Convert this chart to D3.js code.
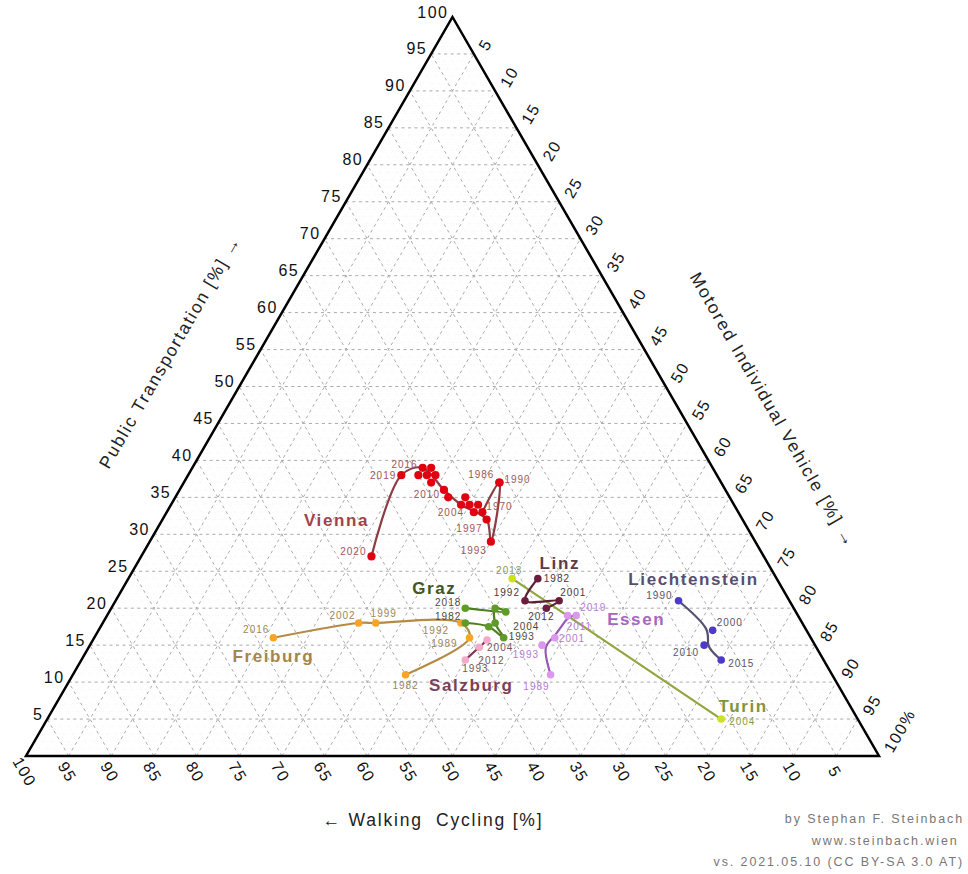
<!DOCTYPE html>
<html>
<head>
<meta charset="utf-8">
<script src="https://cdn.jsdelivr.net/npm/d3@7"></script>
<style>
  body { margin: 0; background: #fff; }
  svg { font-family: "Liberation Sans", Arial, sans-serif; }
</style>
</head>
<body>
<div id="chart"></div>
<script>
// axis ticks (same on all three sides)
const tickValues = [5, 10, 15, 20, 25, 30, 35, 40, 45, 50, 55, 60, 65, 70, 75, 80, 85, 90, 95, 100];

// modal split, shares in % : public transport, motored individual vehicle, walking + cycling
const viennaYears = [1970, 1986, 1990, 1993, 1997, 2001, 2002, 2003, 2004, 2006, 2009, 2010, 2011, 2013, 2014, 2016, 2017, 2018, 2019, 2020];
const viennaPT    = [33, 37, 37, 29, 32, 33, 34, 34, 34, 35, 35, 36, 37, 39, 38, 39, 38, 38, 38, 27];
const viennaMIV   = [37, 37, 37, 40, 38, 36, 36, 35, 34, 34, 32, 31, 29, 28, 28, 27, 27, 29, 25, 27];
const viennaWC    = [30, 26, 26, 31, 30, 31, 30, 31, 32, 31, 33, 33, 34, 33, 34, 34, 35, 33, 37, 46];
const viennaLineYears = [1970, 1990, 1993, 1997, 2004, 2010, 2016, 2019, 2020];

const grazYears = [1982, 1989, 1993, 2004, 2008, 2013, 2018];
const grazPT    = [18, 17.5, 16, 18, 20, 19.5, 20];
const grazMIV   = [42.5, 45.5, 48, 46, 45, 46.5, 41.5];
const grazWC    = [39.5, 37, 36, 36, 35, 34, 38.5];

const linzYears = [1982, 1992, 2001, 2012];
const linzPT    = [24, 21, 21, 20];
const linzMIV   = [48, 48, 52, 51];
const linzWC    = [28, 31, 27, 29];

const essenYears = [1989, 1993, 2001, 2011, 2019];
const essenPT    = [11, 15, 16, 19, 19];
const essenMIV   = [56, 53, 54, 54, 55];
const essenWC    = [33, 32, 30, 27, 26];

const liechtensteinYears = [1990, 2000, 2010, 2015];
const liechtensteinPT    = [21, 17, 15, 13];
const liechtensteinMIV   = [66, 72, 72, 75];
const liechtensteinWC    = [13, 11, 13, 12];

const freiburgYears = [1982, 1989, 1992, 1999, 2002, 2016];
const freiburgPT    = [11, 16, 18, 18, 18, 16];
const freiburgMIV   = [39, 44, 42, 32, 30, 21];
const freiburgWC    = [50, 40, 40, 50, 52, 63];

const salzburgYears = [1993, 2004, 2012];
const salzburgPT    = [13, 15.7, 14.7];
const salzburgMIV   = [45, 46.2, 45.8];
const salzburgWC    = [42, 38.1, 39.5];

const turinYears = [2004, 2013];
const turinPT    = [5, 24];
const turinMIV   = [79, 45];
const turinWC    = [16, 31];

// styling
const cityStyle = {
  Vienna:        {line: '#8c3d44', dot: '#e10010', name: '#9e4447', year: '#a05659', nameAt: [2020, -35, -36]},
  Graz:          {line: '#4f7e1f', dot: '#5f9b29', name: '#43541f', year: '#4b4b3a', nameAt: [2018, -31, -20]},
  Linz:          {line: '#5c2038', dot: '#6b1e3c', name: '#5c3a49', year: '#4d3a43', nameAt: [1982, 22, -15]},
  Essen:         {line: '#9858b6', dot: '#db98ec', name: '#a566c1', year: '#b57bd0', nameAt: [2019, 60, 4]},
  Liechtenstein: {line: '#555074', dot: '#4b3bc8', name: '#56506f', year: '#5a5568', nameAt: [1990, 15, -21]},
  Freiburg:      {line: '#b38b46', dot: '#f8a526', name: '#a5854a', year: '#9d8658', nameAt: [2016, 0, 19]},
  Salzburg:      {line: '#8b2e55', dot: '#f4a9ca', name: '#7c3f58', year: '#6f5a60', nameAt: [1993, 6, 26]},
  Turin:         {line: '#90a63e', dot: '#cde11e', name: '#80963a', year: '#8a9a4c', nameAt: [2004, 22, -13]}
};

// year label placement: [anchor, dx, dy]
const yearLabelAt = {
  Vienna: {1970: ['start', 4, -6], 1986: ['end', -5, -8], 1990: ['start', 5, -3], 1993: ['end', -4, 9],
           1997: ['end', -4, 9], 2004: ['end', 3, 8], 2010: ['end', -4, 5], 2016: ['end', -5, -3],
           2019: ['end', -5, 0], 2020: ['end', -5, -5]},
  Graz: {1982: ['end', -4, -6], 1993: ['start', 5, -1], 2004: ['start', 18, 4], 2018: ['end', -4, -6]},
  Linz: {1982: ['start', 6, 0], 1992: ['end', -5, -8], 2001: ['start', 1, -8], 2012: ['middle', -5, 8]},
  Essen: {1989: ['end', -1, 12], 1993: ['end', -3, 9], 2001: ['start', 4, 1], 2011: ['start', -1, 11], 2019: ['start', 4, -8]},
  Liechtenstein: {1990: ['end', -6, -5], 2000: ['start', 4, -8], 2010: ['end', -5, 7], 2015: ['start', 7, 4]},
  Freiburg: {1982: ['middle', 0, 11], 1989: ['end', -12, 6], 1992: ['end', -12, 8], 1999: ['middle', 8, -9],
             2002: ['end', -3, -7], 2016: ['end', -4, -8]},
  Salzburg: {1993: ['start', -3, 9], 2004: ['start', 0, 8], 2012: ['start', -1, 13]},
  Turin: {2004: ['start', 8, 2], 2013: ['middle', -3, -8]}
};

const cities = [
  {name: 'Vienna', years: viennaYears, pt: viennaPT, miv: viennaMIV, wc: viennaWC, path: viennaLineYears, curve: d3.curveCatmullRom, r: 4.1},
  {name: 'Freiburg', years: freiburgYears, pt: freiburgPT, miv: freiburgMIV, wc: freiburgWC, curve: d3.curveCatmullRom},
  {name: 'Salzburg', years: salzburgYears, pt: salzburgPT, miv: salzburgMIV, wc: salzburgWC, curve: d3.curveCatmullRom},
  {name: 'Graz', years: grazYears, pt: grazPT, miv: grazMIV, wc: grazWC, curve: d3.curveCatmullRom},
  {name: 'Turin', years: turinYears, pt: turinPT, miv: turinMIV, wc: turinWC, curve: d3.curveLinear},
  {name: 'Linz', years: linzYears, pt: linzPT, miv: linzMIV, wc: linzWC, curve: d3.curveCatmullRom},
  {name: 'Essen', years: essenYears, pt: essenPT, miv: essenMIV, wc: essenWC, curve: d3.curveBasis},
  {name: 'Liechtenstein', years: liechtensteinYears, pt: liechtensteinPT, miv: liechtensteinMIV, wc: liechtensteinWC, curve: d3.curveBasis}
];

const width = 968;
const height = 874;

// base of the triangle spans x, height spans public transport share
const xScale = d3.scaleLinear().domain([0, 100]).range([26, 879]);
const yScale = d3.scaleLinear().domain([0, 100]).range([756, 17]);

function pos(pt, miv, wc) {
  if (wc === undefined) wc = 100 - pt - miv;
  const s = (pt + miv + wc) / 100;
  return [xScale((miv + pt / 2) / s), yScale(pt / s)];
}

const svg = d3.select('#chart').append('svg')
  .attr('width', width)
  .attr('height', height);

// grid lines for all three components
function gridSegments(values) {
  const segs = [];
  values.forEach(v => {
    segs.push([pos(v, 0), pos(v, 100 - v)]);
    segs.push([pos(0, v), pos(100 - v, v)]);
    segs.push([pos(0, 100 - v), pos(100 - v, 0)]);
  });
  return segs;
}

svg.append('g').selectAll('line')
  .data(gridSegments(d3.range(1, 100).filter(v => v % 5 !== 0)))
  .join('line')
    .attr('x1', d => d[0][0]).attr('y1', d => d[0][1])
    .attr('x2', d => d[1][0]).attr('y2', d => d[1][1])
    .attr('stroke', '#f2f2f2')
    .attr('stroke-width', 0.6)
    .attr('stroke-dasharray', '1,2');

svg.append('g').selectAll('line')
  .data(gridSegments(tickValues.filter(v => v < 100)))
  .join('line')
    .attr('x1', d => d[0][0]).attr('y1', d => d[0][1])
    .attr('x2', d => d[1][0]).attr('y2', d => d[1][1])
    .attr('stroke', '#aaa')
    .attr('stroke-width', 1)
    .attr('stroke-dasharray', '3,3.5');

// triangle
svg.append('path')
  .attr('d', d3.line()([pos(100, 0), pos(0, 100), pos(0, 0)]) + 'Z')
  .attr('fill', 'none')
  .attr('stroke', '#000')
  .attr('stroke-width', 2.5)
  .attr('stroke-linejoin', 'miter');

// tick labels
const tickG = svg.append('g')
  .attr('font-size', 16)
  .attr('letter-spacing', 1.5)
  .attr('fill', '#111');

tickG.selectAll('text.left')
  .data(tickValues)
  .join('text')
    .attr('class', 'left')
    .attr('x', d => pos(d, 0)[0] - 4)
    .attr('y', d => pos(d, 0)[1] - 5)
    .attr('text-anchor', 'end')
    .attr('dominant-baseline', 'central')
    .text(d => d);

tickG.selectAll('text.right')
  .data(tickValues)
  .join('text')
    .attr('class', 'right')
    .attr('transform', d => {
      const p = pos(100 - d, d);
      return `translate(${p[0] + 9},${p[1] - 5}) rotate(-60)`;
    })
    .attr('text-anchor', 'start')
    .attr('dominant-baseline', 'central')
    .text(d => d === 100 ? '100%' : d);

tickG.selectAll('text.bottom')
  .data(tickValues)
  .join('text')
    .attr('class', 'bottom')
    .attr('transform', d => {
      const p = pos(0, 100 - d);
      return `translate(${p[0] - 1.5},${p[1] + 16}) rotate(60)`;
    })
    .attr('text-anchor', 'middle')
    .attr('dominant-baseline', 'central')
    .text(d => d);

// axis titles
const titleG = svg.append('g')
  .attr('font-size', 17.5)
  .attr('letter-spacing', 1.8)
  .attr('fill', '#222')
  .attr('text-anchor', 'middle');

titleG.append('text')
  .attr('transform', 'translate(170,352) rotate(-60)')
  .attr('dominant-baseline', 'central')
  .text('Public Transportation [%] \u2192');

titleG.append('text')
  .attr('transform', 'translate(773,410) rotate(60)')
  .attr('dominant-baseline', 'central')
  .text('Motored Individual Vehicle [%] \u2192');

titleG.append('text')
  .attr('x', 433)
  .attr('y', 820)
  .attr('dominant-baseline', 'central')
  .text('\u2190 Walking\u00a0 Cycling [%]');

// data
const rowsOf = c => c.years.map((y, i) => ({year: y, pt: c.pt[i], miv: c.miv[i], wc: c.wc[i]}));

const line = curve => d3.line()
  .x(d => pos(d.pt, d.miv, d.wc)[0])
  .y(d => pos(d.pt, d.miv, d.wc)[1])
  .curve(curve);

const lineG = svg.append('g');
const dotG = svg.append('g');
const labelG = svg.append('g');

cities.forEach(c => {
  const rows = rowsOf(c);
  const st = cityStyle[c.name];
  const pathRows = c.path ? c.path.map(y => rows.find(r => r.year === y)) : rows;

  lineG.append('path')
    .datum(pathRows)
    .attr('d', line(c.curve))
    .attr('fill', 'none')
    .attr('stroke', st.line)
    .attr('stroke-width', 2.2)
    .attr('stroke-linecap', 'round');

  dotG.selectAll(null)
    .data(rows)
    .join('circle')
      .attr('cx', d => pos(d.pt, d.miv, d.wc)[0])
      .attr('cy', d => pos(d.pt, d.miv, d.wc)[1])
      .attr('r', c.r || 3.8)
      .attr('fill', st.dot);

  const labelPos = yearLabelAt[c.name];
  labelG.selectAll(null)
    .data(rows.filter(r => labelPos[r.year]))
    .join('text')
      .attr('x', d => pos(d.pt, d.miv, d.wc)[0] + labelPos[d.year][1])
      .attr('y', d => pos(d.pt, d.miv, d.wc)[1] + labelPos[d.year][2])
      .attr('text-anchor', d => labelPos[d.year][0])
      .attr('dominant-baseline', 'central')
      .attr('font-size', 10)
      .attr('letter-spacing', 1)
      .attr('fill', st.year)
      .text(d => d.year);

  const ref = rows.find(r => r.year === st.nameAt[0]);
  const rp = pos(ref.pt, ref.miv, ref.wc);
  labelG.append('text')
    .attr('x', rp[0] + st.nameAt[1])
    .attr('y', rp[1] + st.nameAt[2])
    .attr('text-anchor', 'middle')
    .attr('dominant-baseline', 'central')
    .attr('font-size', 17)
    .attr('font-weight', 'bold')
    .attr('letter-spacing', 1.6)
    .attr('fill', st.name)
    .text(c.name);
});

// credits
const credits = ['by Stephan F. Steinbach', 'www.steinbach.wien\u00a0', 'vs. 2021.05.10 (CC BY-SA 3.0 AT)'];
svg.append('g')
  .selectAll('text')
  .data(credits)
  .join('text')
    .attr('x', 964)
    .attr('y', (d, i) => 823 + i * 21.5)
    .attr('text-anchor', 'end')
    .attr('font-size', 12.5)
    .attr('letter-spacing', 1.9)
    .attr('fill', '#777')
    .text(d => d);
</script>
</body>
</html>
